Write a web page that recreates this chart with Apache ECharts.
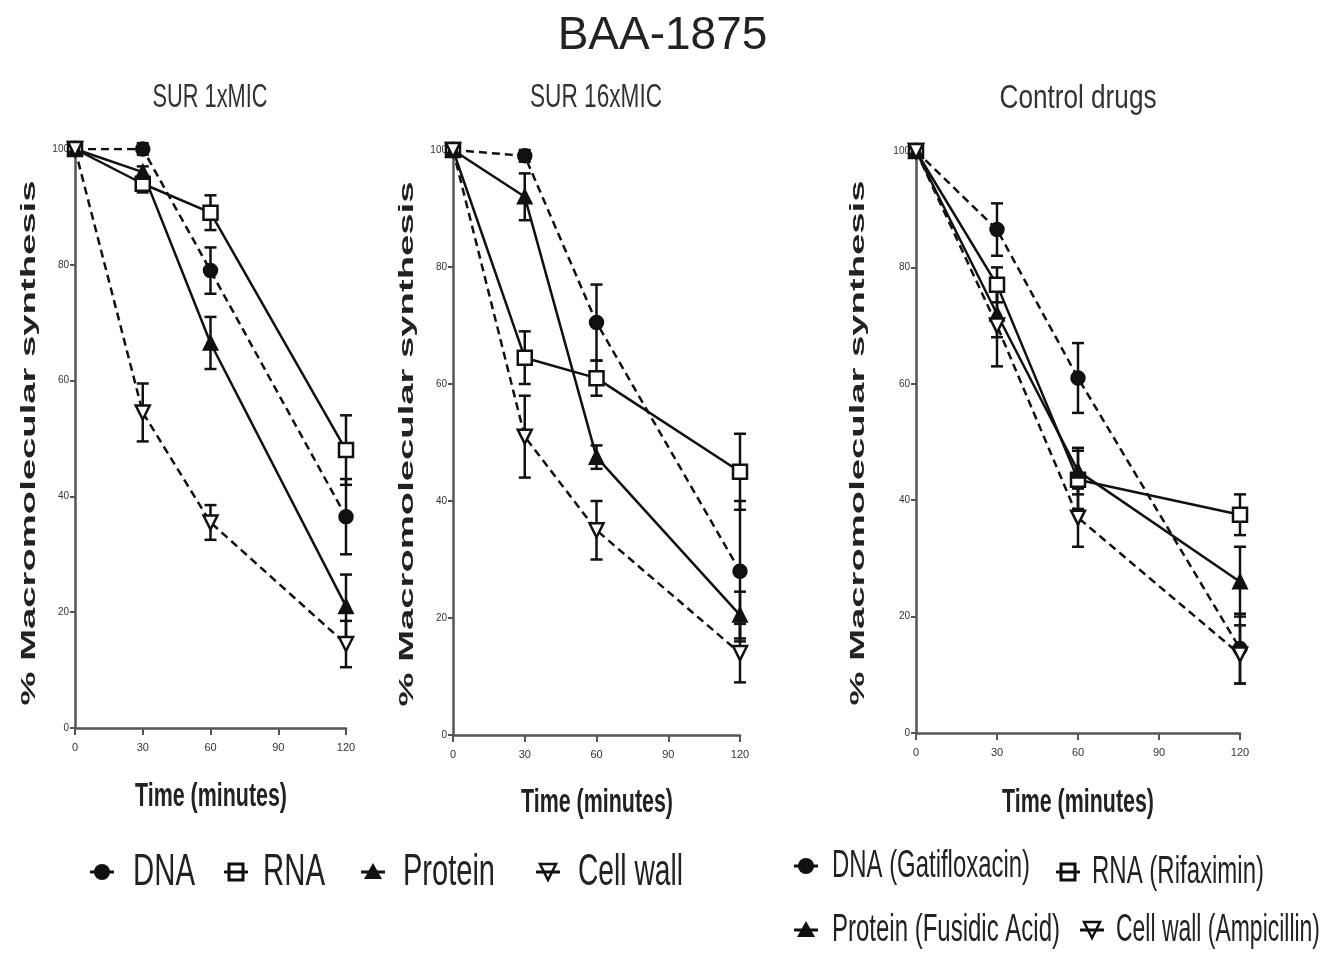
<!DOCTYPE html>
<html>
<head>
<meta charset="utf-8">
<script src="https://cdn.jsdelivr.net/npm/echarts@6/dist/echarts.min.js"></script>
<style>html,body{margin:0;padding:0;background:#fff}#c{width:1325px;height:957px}</style>
</head>
<body>
<div id="c"></div>
<script>
// ---------- data ----------
const mainTitle = 'BAA-1875';
const panelTitles = ['SUR 1xMIC', 'SUR 16xMIC', 'Control drugs'];
const yAxisName = '% Macromolecular synthesis';
const xAxisName = 'Time (minutes)';
const seriesNames = ['DNA', 'RNA', 'Protein', 'Cell wall'];
const controlNames = ['DNA (Gatifloxacin)', 'RNA (Rifaximin)', 'Protein (Fusidic Acid)', 'Cell wall (Ampicillin)'];
const times = [0, 30, 60, 120];
const xTicks = [0, 30, 60, 90, 120];
const yTicks = [0, 20, 40, 60, 80, 100];

// SUR 1xMIC
const sur1_dna = [100, 100, 79, 36.5];
const sur1_dna_err = [0, 1, 4, 6.5];
const sur1_rna = [100, 94, 89, 48];
const sur1_rna_err = [0, 1.5, 3, 6];
const sur1_protein = [100, 96, 66.5, 21];
const sur1_protein_err = [0, 1, 4.5, 5.5];
const sur1_cellwall = [100, 54.5, 35.5, 14.5];
const sur1_cellwall_err = [0, 5, 3, 4];

// SUR 16xMIC
const sur16_dna = [100, 99, 70.5, 28];
const sur16_dna_err = [0, 1, 6.5, 12];
const sur16_rna = [100, 64.5, 61, 45];
const sur16_rna_err = [0, 4.5, 3, 6.5];
const sur16_protein = [100, 92, 47.5, 20.5];
const sur16_protein_err = [0, 4, 2, 4];
const sur16_cellwall = [100, 51, 35, 14];
const sur16_cellwall_err = [0, 7, 5, 5];

// Control drugs
const ctrl_dna = [100, 86.5, 61, 14.5];
const ctrl_dna_err = [0, 4.5, 6, 6];
const ctrl_rna = [100, 77, 43.5, 37.5];
const ctrl_rna_err = [0, 3, 5, 3.5];
const ctrl_protein = [100, 72, 45, 26];
const ctrl_protein_err = [0, 4, 4, 6];
const ctrl_cellwall = [100, 70, 37, 13.5];
const ctrl_cellwall_err = [0, 7, 5, 5];

// ---------- layout / styles ----------
const FONT = 'Liberation Sans, Arial, sans-serif';
const panels = [
  { names: seriesNames, vals: [sur1_dna, sur1_rna, sur1_protein, sur1_cellwall],
    errs: [sur1_dna_err, sur1_rna_err, sur1_protein_err, sur1_cellwall_err],
    grid: { left: 75, top: 149, width: 271, height: 579 } },
  { names: seriesNames, vals: [sur16_dna, sur16_rna, sur16_protein, sur16_cellwall],
    errs: [sur16_dna_err, sur16_rna_err, sur16_protein_err, sur16_cellwall_err],
    grid: { left: 453, top: 150, width: 287, height: 585 } },
  { names: controlNames, vals: [ctrl_dna, ctrl_rna, ctrl_protein, ctrl_cellwall],
    errs: [ctrl_dna_err, ctrl_rna_err, ctrl_protein_err, ctrl_cellwall_err],
    grid: { left: 916, top: 151, width: 324, height: 582 } }
];
const symbolStyles = [
  { symbol: 'circle', size: 13, fill: '#111', dashed: true, rotate: 0 },
  { symbol: 'rect', size: 14, fill: '#fff', dashed: false, rotate: 0 },
  { symbol: 'triangle', size: 13, fill: '#111', dashed: false, rotate: 0 },
  { symbol: 'triangle', size: 14, fill: '#fff', dashed: true, rotate: 180 }
];

const measureCtx = document.createElement('canvas').getContext('2d');
function fitScale(text, size, weight, target) {
  measureCtx.font = weight + ' ' + size + 'px ' + FONT;
  return target / measureCtx.measureText(text).width;
}
function txt(text, x, y, size, weight, target, opts) {
  opts = opts || {};
  return {
    type: 'text', x: x, y: y, rotation: opts.rotation || 0,
    scaleX: fitScale(text, size, weight, target), z: 100,
    style: { text: text, fontSize: size, fontWeight: weight, fontFamily: FONT,
      fill: opts.color || '#222', align: 'center', verticalAlign: 'middle' }
  };
}

const grids = [], xAxes = [], yAxes = [], series = [];
panels.forEach((p, pi) => {
  grids.push(p.grid);
  xAxes.push({
    gridIndex: pi, type: 'value', min: xTicks[0], max: xTicks[xTicks.length - 1],
    interval: xTicks[1] - xTicks[0],
    axisLine: { show: true, onZero: false, lineStyle: { color: '#555', width: 2.5 } },
    axisTick: { show: true, length: 7, lineStyle: { color: '#555', width: 2 } },
    axisLabel: { fontSize: 11, color: '#333', margin: 14, fontFamily: FONT },
    splitLine: { show: false }
  });
  yAxes.push({
    gridIndex: pi, type: 'value', min: yTicks[0], max: yTicks[yTicks.length - 1],
    interval: yTicks[1] - yTicks[0],
    axisLine: { show: true, onZero: false, lineStyle: { color: '#555', width: 2.5 } },
    axisTick: { show: true, length: 5, lineStyle: { color: '#555', width: 2 } },
    axisLabel: { fontSize: 10, color: '#333', margin: 6, fontFamily: FONT },
    splitLine: { show: false }
  });
  p.vals.forEach((vals, si) => {
    const st = symbolStyles[si];
    series.push({
      type: 'custom', name: p.names[si] + ' error', xAxisIndex: pi, yAxisIndex: pi, z: 2,
      data: times.map((t, i) => [t, vals[i], p.errs[si][i]]),
      renderItem: function (params, api) {
        const x = api.value(0), y = api.value(1), e = api.value(2);
        if (!e) return null;
        const top = api.coord([x, y + e]), bot = api.coord([x, y - e]);
        const hw = 6;
        const ls = { stroke: '#111', lineWidth: 2.5 };
        return { type: 'group', children: [
          { type: 'line', shape: { x1: top[0], y1: top[1], x2: bot[0], y2: bot[1] }, style: ls },
          { type: 'line', shape: { x1: top[0] - hw, y1: top[1], x2: top[0] + hw, y2: top[1] }, style: ls },
          { type: 'line', shape: { x1: bot[0] - hw, y1: bot[1], x2: bot[0] + hw, y2: bot[1] }, style: ls }
        ] };
      }
    });
    series.push({
      type: 'line', name: p.names[si], xAxisIndex: pi, yAxisIndex: pi, z: 3,
      data: times.map((t, i) => [t, vals[i]]),
      symbol: st.symbol, symbolSize: st.size, symbolRotate: st.rotate,
      showAllSymbol: true,
      itemStyle: { color: st.fill, borderColor: '#111', borderWidth: 2.5 },
      lineStyle: { color: '#111', width: 2.5, type: st.dashed ? [8, 5] : 'solid' },
      emphasis: { disabled: true }, animation: false
    });
  });
});

// ---------- texts & legends ----------
const graphics = [];
graphics.push(txt(panelTitles[0], 210, 98, 34, 'normal', 115, { color: '#333' }));
graphics.push(txt(panelTitles[1], 596, 98, 34, 'normal', 132, { color: '#333' }));
graphics.push(txt(panelTitles[2], 1078, 99, 34, 'normal', 157, { color: '#333' }));
[[29, 443], [407, 444], [858, 443]].forEach(([x, y]) =>
  graphics.push(txt(yAxisName, x, y, 21, 'bold', 525, { rotation: Math.PI / 2 })));
[[211, 797], [597, 803], [1078, 803]].forEach(([x, y]) =>
  graphics.push(txt(xAxisName, x, y, 34, 'bold', 152)));

function legendIcon(kind, cx, cy) {
  const ls = { stroke: '#111', lineWidth: 3 };
  const ch = [{ type: 'line', shape: { x1: cx - 12, y1: cy, x2: cx + 12, y2: cy }, style: ls }];
  const r = 8;
  if (kind === 0) ch.push({ type: 'circle', shape: { cx: cx, cy: cy, r: r }, style: { fill: '#111' } });
  if (kind === 1) ch.push({ type: 'rect', shape: { x: cx - 7, y: cy - 8, width: 14, height: 16 }, style: { fill: 'none', stroke: '#111', lineWidth: 3 } });
  if (kind === 2) ch.push({ type: 'polygon', shape: { points: [[cx, cy - 9], [cx + 9, cy + 7], [cx - 9, cy + 7]] }, style: { fill: '#111' } });
  if (kind === 3) ch.push({ type: 'polygon', shape: { points: [[cx - 8, cy - 8], [cx + 8, cy - 8], [cx, cy + 8]] }, style: { fill: 'none', stroke: '#111', lineWidth: 2.5 } });
  return { type: 'group', z: 100, children: ch };
}
// left legend
const leftLeg = [[102, 133, 62], [236, 263, 62], [373, 403, 92], [548, 578, 105]];
leftLeg.forEach(([ix, tx, w], i) => {
  graphics.push(legendIcon(i, ix, 872));
  graphics.push(txt(seriesNames[i], tx + w / 2, 873, 44, 'normal', w));
});
// right legend
const rightLeg = [[806, 866, 832, 198], [1068, 872, 1092, 172], [806, 930, 832, 228], [1092, 930, 1116, 204]];
rightLeg.forEach(([ix, iy, tx, w], i) => {
  graphics.push(legendIcon(i, ix, iy));
  graphics.push(txt(controlNames[i], tx + w / 2, iy + 1, 38, 'normal', w));
});

const chart = echarts.init(document.getElementById('c'), null, { renderer: 'canvas' });
chart.setOption({
  backgroundColor: '#fff',
  animation: false,
  title: { text: mainTitle, left: 'center', top: 8,
    textStyle: { fontSize: 46, fontWeight: 'normal', color: '#222', fontFamily: FONT } },
  grid: grids, xAxis: xAxes, yAxis: yAxes, series: series, graphic: graphics
});
</script>
</body>
</html>
